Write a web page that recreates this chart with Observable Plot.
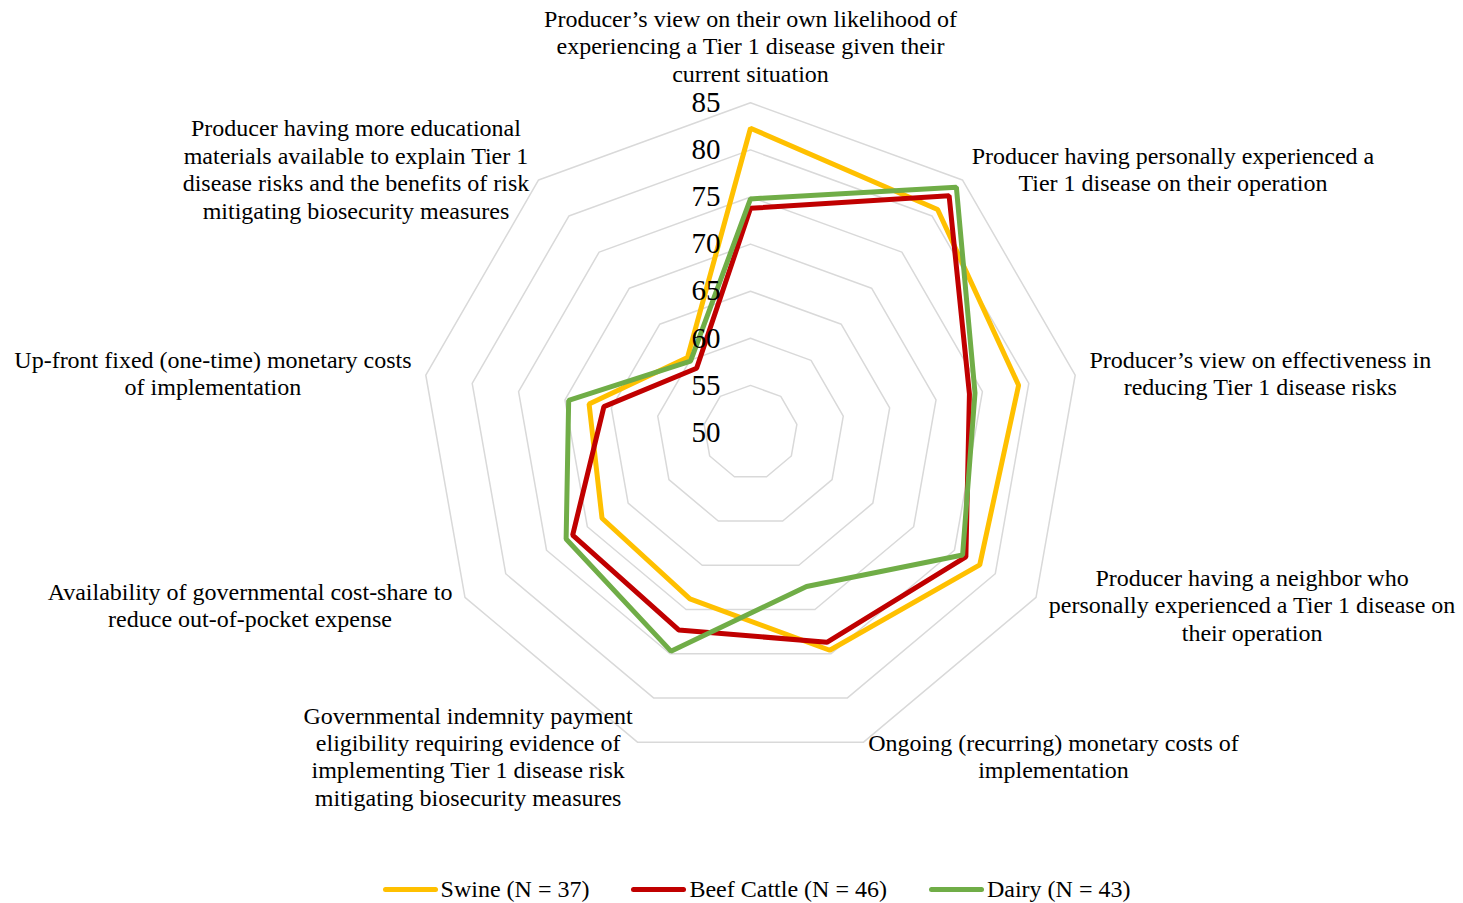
<!DOCTYPE html>
<html><head><meta charset="utf-8">
<script src="https://cdn.jsdelivr.net/npm/d3@7"></script>
<script src="https://cdn.jsdelivr.net/npm/@observablehq/plot@0.6"></script>
<style>
body{margin:0;background:#fff;font-family:"Liberation Serif","Times New Roman",serif;}
#wrap{position:relative;width:1463px;height:903px;}
#legend{position:absolute;left:0;top:874px;width:1463px;height:30px;box-sizing:border-box;padding-left:50px;display:flex;justify-content:center;align-items:center;font-size:24px;color:#000;}
.item{display:flex;align-items:center;margin:0 21px;white-space:nowrap;}
.sw{width:55px;height:5px;border-radius:3px;margin-right:3px;}
</style></head><body><div id="wrap"><div id="chart"></div><div id="legend"></div></div>
<script>
const categories = [
  "Producer’s view on their own likelihood of\nexperiencing a Tier 1 disease given their\ncurrent situation",
  "Producer having personally experienced a\nTier 1 disease on their operation",
  "Producer’s view on effectiveness in\nreducing Tier 1 disease risks",
  "Producer having a neighbor who\npersonally experienced a Tier 1 disease on\ntheir operation",
  "Ongoing (recurring) monetary costs of\nimplementation",
  "Governmental indemnity payment\neligibility requiring evidence of\nimplementing Tier 1 disease risk\nmitigating biosecurity measures",
  "Availability of governmental cost-share to\nreduce out-of-pocket expense",
  "Up-front fixed (one-time) monetary costs\nof implementation",
  "Producer having more educational\nmaterials available to explain Tier 1\ndisease risks and the benefits of risk\nmitigating biosecurity measures"
];
const seriesNames = ["Swine (N = 37)", "Beef Cattle (N = 46)", "Dairy (N = 43)"];
const swine = [82.3, 80.9, 78.9, 78.1, 74.6, 68.8, 68.2, 67.4, 60.4];
const beef  = [73.8, 82.8, 73.6, 76.4, 73.7, 72.3, 71.8, 65.8, 58.9];
const dairy = [74.8, 84.0, 74.2, 76.0, 67.4, 74.7, 72.6, 69.6, 59.9];
const colors = ["#FFC000", "#C00000", "#70AD47"];
const ticks = [50, 55, 60, 65, 70, 75, 80, 85];

const W = 1463, H = 870, CX = 750, CY = 432, K = 9.42;
const MIN = ticks[0], MAX = ticks[ticks.length - 1];
const n = categories.length;
const ang = i => 2 * Math.PI * i / n;
const pol = (r, i) => ({x: r * Math.sin(ang(i)), y: r * Math.cos(ang(i))});

const grid = ticks.slice(1).flatMap(t => categories.map((c, i) => ({level: t, ...pol(t - MIN, i)})));
const seriesData = [swine, beef, dairy].flatMap((vals, s) =>
  vals.map((v, i) => ({series: seriesNames[s], ...pol(v - MIN, i)})));

const FS = 24, LH = 27.5, PAD = 14.5, R = (MAX - MIN) * K;
const ctx = document.createElement("canvas").getContext("2d");
ctx.font = FS + "px 'Liberation Serif'";
const labelData = categories.map((c, i) => {
  const lines = c.split("\n");
  const w = Math.max(...lines.map(l => ctx.measureText(l).width));
  const s = Math.sin(ang(i)), co = Math.cos(ang(i));
  const vx = R * s, vy = R * co;
  let px, py;
  if (Math.abs(s) < 0.01) { px = 0; py = vy + 16 + lines.length * LH / 2; }
  else { px = vx + PAD * s + Math.sign(s) * w / 2; py = vy + PAD * co; }
  return {text: c, x: px / K, y: py / K};
});

const chart = Plot.plot({
  width: W, height: H, margin: 0,
  style: {fontFamily: "Liberation Serif, Times New Roman, serif", background: "#fff", color: "#000"},
  x: {domain: [-CX / K, (W - CX) / K], range: [0, W], axis: null},
  y: {domain: [-(H - CY) / K, CY / K], range: [H, 0], axis: null},
  color: {domain: seriesNames, range: colors},
  marks: [
    Plot.line(grid, {x: "x", y: "y", z: "level", curve: "linear-closed", stroke: "#D9D9D9", strokeWidth: 1.5}),
    Plot.line(seriesData, {x: "x", y: "y", z: "series", stroke: "series", curve: "linear-closed", strokeWidth: 5, strokeLinejoin: "miter"}),
    Plot.text(ticks, {x: () => -30 / K, y: t => t - MIN, text: d => String(d), textAnchor: "end", fontSize: 29, fill: "#000", fontFamily: "Liberation Serif"}),
    Plot.text(labelData, {x: "x", y: "y", text: "text", textAnchor: "middle", lineAnchor: "middle", lineHeight: LH / FS, fontSize: FS, fill: "#000", fontFamily: "Liberation Serif"})
  ]
});
document.getElementById("chart").appendChild(chart);

const legend = document.getElementById("legend");
seriesNames.forEach((name, i) => {
  const item = document.createElement("div");
  item.className = "item";
  const sw = document.createElement("span");
  sw.className = "sw";
  sw.style.background = colors[i];
  const t = document.createElement("span");
  t.textContent = name;
  item.appendChild(sw); item.appendChild(t);
  legend.appendChild(item);
});
</script>
</body></html>
